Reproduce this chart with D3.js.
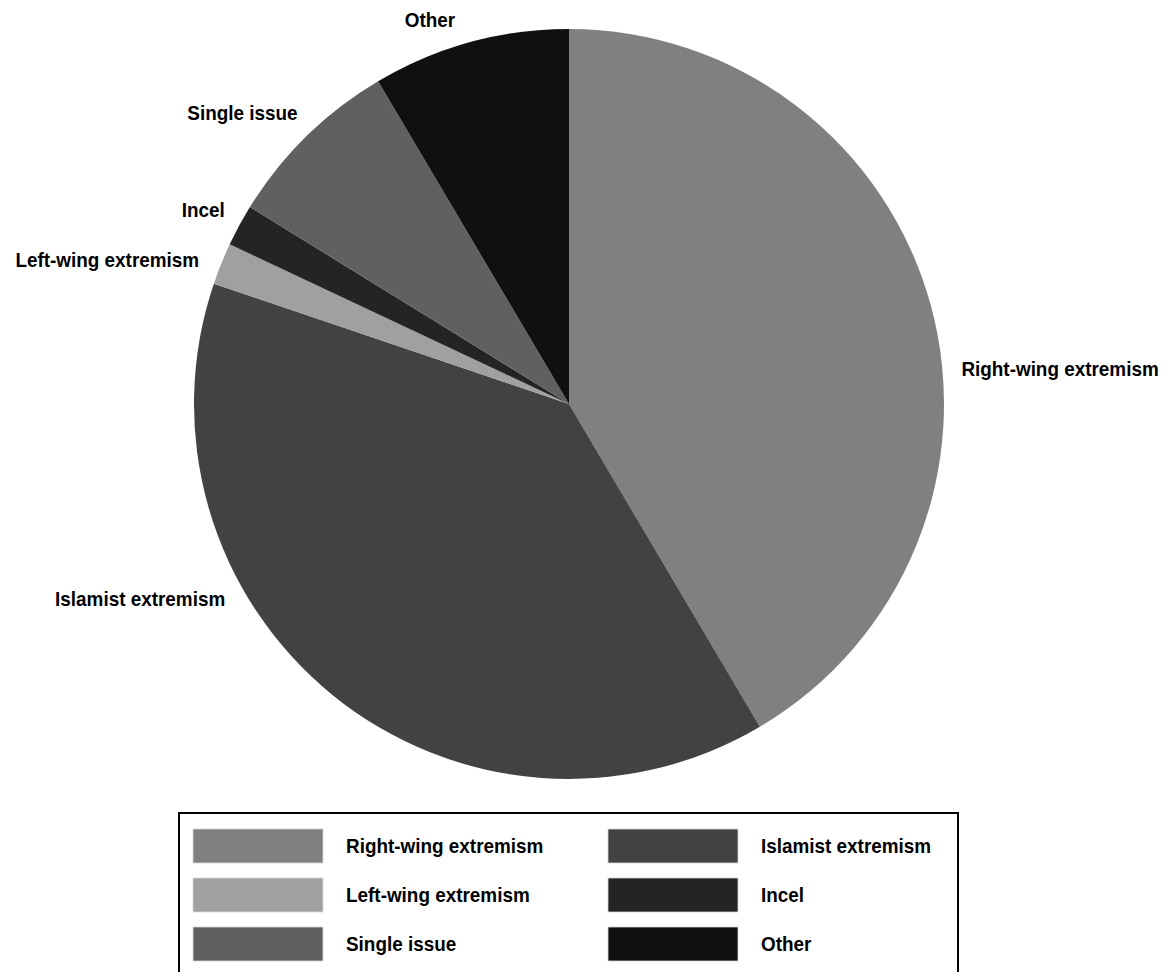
<!DOCTYPE html>
<html>
<head>
<meta charset="utf-8">
<script src="https://cdn.jsdelivr.net/npm/d3@7"></script>
<style>
  body { margin: 0; background: #fff; }
  text { font-family: "Liberation Sans", Arial, sans-serif; font-weight: bold; fill: #000; }
</style>
</head>
<body>
<div id="chart"></div>
<script>
// categories in drawing order (clockwise from 12 o'clock)
const categories = [
  "Right-wing extremism",
  "Islamist extremism",
  "Left-wing extremism",
  "Incel",
  "Single issue",
  "Other",
];
// share of each category, %
const shares = [41.5, 38.7, 1.8, 1.8, 7.7, 8.5];
const colors = ["#808080", "#424242", "#a0a0a0", "#242424", "#606060", "#101010"];

// legend order (two columns, three rows)
const legendOrder = [
  "Right-wing extremism",
  "Islamist extremism",
  "Left-wing extremism",
  "Incel",
  "Single issue",
  "Other",
];

const width = 1169,
  height = 972;
const cx = 569,
  cy = 404,
  radius = 375;
const fontSize = 21,
  squeeze = 0.9; // the original font is a condensed bold

const svg = d3
  .select("#chart")
  .append("svg")
  .attr("width", width)
  .attr("height", height);

const data = categories.map((c, i) => ({ name: c, value: shares[i] }));

const color = d3.scaleOrdinal().domain(categories).range(colors);

const pie = d3.pie().sort(null).value((d) => d.value);
const arc = d3.arc().innerRadius(0).outerRadius(radius);

const arcs = pie(data);

const g = svg.append("g").attr("transform", `translate(${cx}, ${cy})`);

g.selectAll("path")
  .data(arcs)
  .join("path")
  .attr("d", arc)
  .attr("fill", (d) => color(d.data.name));

// label placement, nudged to where the original software put them: [angle deg, radius]
const labelSpot = {
  "Right-wing extremism": [84.8, 394],
  "Islamist extremism": [240.5, 395],
  "Left-wing extremism": [291.3, 397],
  Incel: [299.4, 395],
  "Single issue": [317, 398],
  Other: [343.5, 401],
};

g.selectAll("text.lbl")
  .data(arcs)
  .join("text")
  .attr("class", "lbl")
  .each(function (d) {
    const mid = (d.startAngle + d.endAngle) / 2;
    const spot = labelSpot[d.data.name];
    const a = spot ? (spot[0] * Math.PI) / 180 : mid;
    const r = spot ? spot[1] : radius + 20;
    const x = Math.sin(a) * r;
    const y = -Math.cos(a) * r;
    const s = Math.sin(a);
    d3.select(this)
      .attr("transform", `translate(${x}, ${y}) scale(${squeeze}, 1)`)
      .attr("dy", "0.35em")
      .attr("text-anchor", s > 0.05 ? "start" : s < -0.05 ? "end" : "middle");
  })
  .attr("font-size", fontSize + "px")
  .text((d) => d.data.name);

// legend
const legend = svg.append("g").attr("transform", "translate(179, 813)");

legend
  .append("rect")
  .attr("width", 779)
  .attr("height", 170)
  .attr("fill", "none")
  .attr("stroke", "#000")
  .attr("stroke-width", 2);

const colX = d3.scaleOrdinal().domain([0, 1]).range([14, 429]);
const rowY = d3.scaleLinear().domain([0, 1]).range([16, 65]);

const item = legend
  .selectAll("g.item")
  .data(legendOrder)
  .join("g")
  .attr("class", "item")
  .attr("transform", (d, i) => `translate(${colX(i % 2)}, ${rowY(Math.floor(i / 2))})`);

item
  .append("rect")
  .attr("width", 130)
  .attr("height", 34)
  .attr("fill", (d) => color(d))
  .attr("stroke", "#d8d8d8")
  .attr("stroke-width", 0.8);

item
  .append("text")
  .attr("transform", `translate(153, 17) scale(${squeeze}, 1)`)
  .attr("dy", "0.35em")
  .attr("font-size", fontSize + "px")
  .text((d) => d);
</script>
</body>
</html>
